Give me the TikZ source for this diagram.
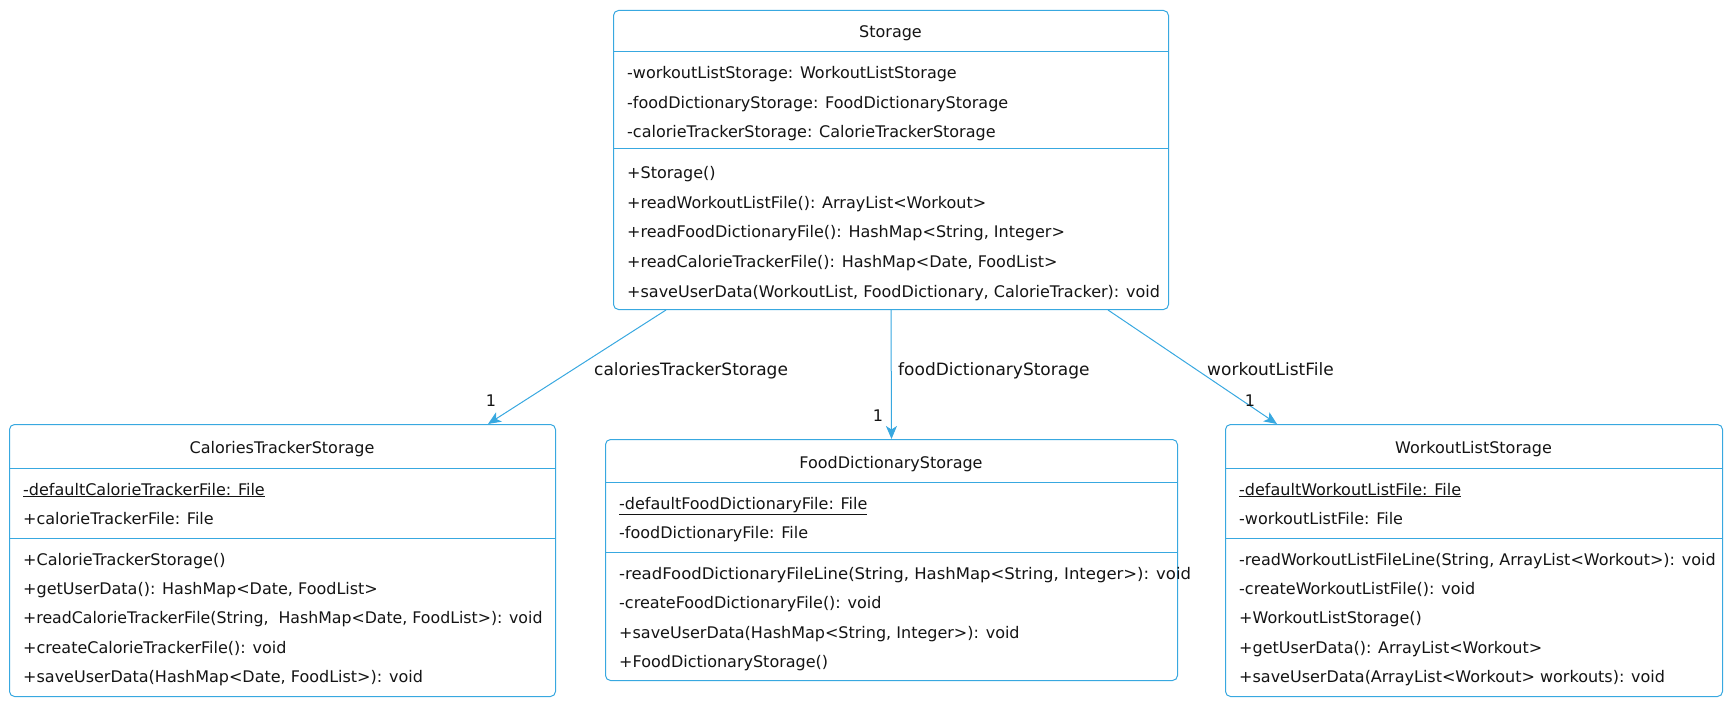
\documentclass[tikz,border=0pt]{standalone}
\usepackage{fontspec}
\usepackage{graphicx}
\setmainfont{DejaVu Sans}
\usetikzlibrary{arrows.meta}
\definecolor{umlblue}{RGB}{56,168,224}
\definecolor{umltext}{RGB}{20,20,20}
\tikzset{
  umlbox/.style={draw=umlblue, line width=1pt, rounded corners=5pt, fill=white,
    inner sep=0pt, anchor=north west},
  divider/.style={draw=umlblue, line width=1pt},
  rowtext/.style={anchor=base west, inner sep=0pt, text=umltext,
    font=\fontsize{16}{19}\selectfont},
  titletext/.style={anchor=base, inner sep=0pt, text=umltext,
    font=\fontsize{16}{19}\selectfont},
  edgelabel/.style={anchor=base west, inner sep=0pt, text=umltext,
    font=\fontsize{17}{20}\selectfont},
  multlabel/.style={anchor=base, inner sep=0pt, text=umltext,
    font=\fontsize{16}{19}\selectfont},
  assoc/.style={draw=umlblue, line width=1pt,
    -{Stealth[length=13pt, width=11pt, inset=3.5pt]}}
}
\begin{document}
\begin{tikzpicture}[x=1pt, y=-1pt]
\useasboundingbox (0,0) rectangle (1731,703);

% ---------------- Storage ----------------
\node[umlbox, minimum width=555pt, minimum height=299pt] (storage) at (613,10) {};
\draw[divider] ([yshift=-42pt]storage.north west) -- ([yshift=-42pt]storage.north east);
\draw[divider] ([yshift=-139pt]storage.north west) -- ([yshift=-139pt]storage.north east);
\node[titletext] (stTitle) at (890.5,38) {Storage};
\node[rowtext] (stA1) at (627,79) {-workoutListStorage: WorkoutListStorage};
\node[rowtext] (stA2) at (627,108.5) {-foodDictionaryStorage: FoodDictionaryStorage};
\node[rowtext] (stA3) at (627,138) {-calorieTrackerStorage: CalorieTrackerStorage};
\node[rowtext] (stM1) at (627,179) {+Storage()};
\node[rowtext] (stM2) at (627,208.5) {+readWorkoutListFile(): ArrayList<Workout>};
\node[rowtext] (stM3) at (627,238) {+readFoodDictionaryFile(): HashMap<String, Integer>};
\node[rowtext] (stM4) at (627,267.5) {+readCalorieTrackerFile(): HashMap<Date, FoodList>};
\node[rowtext] (stM5) at (627,297) {+saveUserData(WorkoutList, FoodDictionary, CalorieTracker): void};

% ---------------- CaloriesTrackerStorage ----------------
\node[umlbox, minimum width=546pt, minimum height=272pt] (cts) at (9,424) {};
\draw[divider] ([yshift=-44pt]cts.north west) -- ([yshift=-44pt]cts.north east);
\draw[divider] ([yshift=-114pt]cts.north west) -- ([yshift=-114pt]cts.north east);
\node[titletext] (ctsTitle) at (282,453) {CaloriesTrackerStorage};
\node[rowtext] (ctsA1) at (23,495) {\underline{-defaultCalorieTrackerFile: File}};
\node[rowtext] (ctsA2) at (23,524) {+calorieTrackerFile: File};
\node[rowtext] (ctsM1) at (23,565) {+CalorieTrackerStorage()};
\node[rowtext] (ctsM2) at (23,594) {+getUserData(): HashMap<Date, FoodList>};
\node[rowtext] (ctsM3) at (23,623) {\scalebox{0.985}[1]{+readCalorieTrackerFile(String, \ HashMap<Date, FoodList>): void}};
\node[rowtext] (ctsM4) at (23,653) {+createCalorieTrackerFile(): void};
\node[rowtext] (ctsM5) at (23,682) {+saveUserData(HashMap<Date, FoodList>): void};

% ---------------- FoodDictionaryStorage ----------------
\node[umlbox, minimum width=572pt, minimum height=241pt] (fds) at (605,439) {};
\draw[divider] ([yshift=-43pt]fds.north west) -- ([yshift=-43pt]fds.north east);
\draw[divider] ([yshift=-113pt]fds.north west) -- ([yshift=-113pt]fds.north east);
\node[titletext] (fdsTitle) at (891,468) {FoodDictionaryStorage};
\node[rowtext] (fdsA1) at (619,509) {\underline{-defaultFoodDictionaryFile: File}};
\node[rowtext] (fdsA2) at (619,538) {-foodDictionaryFile: File};
\node[rowtext] (fdsM1) at (619,579) {\scalebox{1.03}[1]{-readFoodDictionaryFileLine(String, HashMap<String, Integer>): void}};
\node[rowtext] (fdsM2) at (619,608) {-createFoodDictionaryFile(): void};
\node[rowtext] (fdsM3) at (619,638) {+saveUserData(HashMap<String, Integer>): void};
\node[rowtext] (fdsM4) at (619,667) {+FoodDictionaryStorage()};

% ---------------- WorkoutListStorage ----------------
\node[umlbox, minimum width=497pt, minimum height=272pt] (wls) at (1225,424) {};
\draw[divider] ([yshift=-44pt]wls.north west) -- ([yshift=-44pt]wls.north east);
\draw[divider] ([yshift=-114pt]wls.north west) -- ([yshift=-114pt]wls.north east);
\node[titletext] (wlsTitle) at (1473.5,453) {WorkoutListStorage};
\node[rowtext] (wlsA1) at (1239,495) {\underline{-defaultWorkoutListFile: File}};
\node[rowtext] (wlsA2) at (1239,524) {-workoutListFile: File};
\node[rowtext] (wlsM1) at (1239,565) {-readWorkoutListFileLine(String, ArrayList<Workout>): void};
\node[rowtext] (wlsM2) at (1239,594) {-createWorkoutListFile(): void};
\node[rowtext] (wlsM3) at (1239,623) {+WorkoutListStorage()};
\node[rowtext] (wlsM4) at (1239,653) {+getUserData(): ArrayList<Workout>};
\node[rowtext] (wlsM5) at (1239,682) {+saveUserData(ArrayList<Workout> workouts): void};

% ---------------- Associations ----------------
\draw[assoc] ([xshift=53pt]storage.south west) -- ([xshift=479pt]cts.north west);
\draw[assoc] (storage.south) -- (fds.north);
\draw[assoc] ([xshift=-61pt]storage.south east) -- ([xshift=52pt]wls.north west);

\node[edgelabel] (lblCts) at (594,375) {caloriesTrackerStorage};
\node[edgelabel] (lblFds) at (898,375) {foodDictionaryStorage};
\node[edgelabel] (lblWls) at (1207,375) {workoutListFile};

\node[multlabel] (mCts) at (491,406) {1};
\node[multlabel] (mFds) at (878,421) {1};
\node[multlabel] (mWls) at (1250,406) {1};
\end{tikzpicture}
\end{document}
